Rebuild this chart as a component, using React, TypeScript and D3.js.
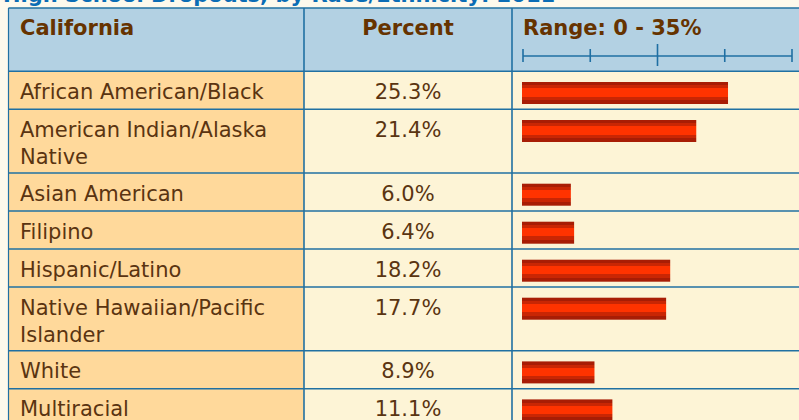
import React from "react";
import * as d3 from "d3";

const title = "High School Dropouts, by Race/Ethnicity: 2011";
const regionLabel = "California";
const valueHeader = "Percent";
const rangeHeader = "Range: 0 - 35%";
const categories = [
  "African American/Black",
  "American Indian/Alaska Native",
  "Asian American",
  "Filipino",
  "Hispanic/Latino",
  "Native Hawaiian/Pacific Islander",
  "White",
  "Multiracial",
];
const values = [25.3, 21.4, 6.0, 6.4, 18.2, 17.7, 8.9, 11.1];
const rangeDomain = [0, 35];
const axisTicks = [0, 8.75, 17.5, 26.25, 35];

const W = 799;
const H = 420;
const FONT = '"DejaVu Sans", Verdana, sans-serif';

function wrapText(text: string, maxW: number): string[] {
  const ctx = document.createElement("canvas").getContext("2d");
  if (!ctx) return [text];
  ctx.font = `21px "DejaVu Sans"`;
  const words = text.split(" ");
  const lines: string[] = [];
  let cur = "";
  for (const w of words) {
    const t = cur ? cur + " " + w : w;
    if (ctx.measureText(t).width > maxW && cur) {
      lines.push(cur);
      cur = w;
    } else cur = t;
  }
  if (cur) lines.push(cur);
  return lines;
}

export default function App() {
  const left = 8.5;
  const c1 = 304;
  const c2 = 512;
  const right = 820;
  const headTop = 8;
  const headBottom = 71.3;

  const lines = categories.map((c) => wrapText(c, 272));
  const heights = lines.map((l) => 38 + (l.length - 1) * 25.7);
  const tops: number[] = [];
  let y = headBottom;
  heights.forEach((h) => {
    tops.push(y);
    y += h;
  });

  const barX = d3.scaleLinear().domain(rangeDomain).range([522, 807]);
  const axisX = d3.scaleLinear().domain(rangeDomain).range([523, 792]);
  const fmt = d3.format(".1f");
  const grid = "#2070a2";

  return (
    <svg
      width={W}
      height={H}
      style={{ position: "absolute", left: 0, top: 0, display: "block" }}
      fontFamily={FONT}
    >
      <defs>
        <linearGradient id="barGrad" x1="0" y1="0" x2="0" y2="1">
          <stop offset="0" stopColor="#a81d05" />
          <stop offset="0.15" stopColor="#a81d05" />
          <stop offset="0.15" stopColor="#c92604" />
          <stop offset="0.29" stopColor="#c92604" />
          <stop offset="0.29" stopColor="#ff3300" />
          <stop offset="0.67" stopColor="#ff3300" />
          <stop offset="0.67" stopColor="#c92604" />
          <stop offset="0.81" stopColor="#c92604" />
          <stop offset="0.81" stopColor="#a81d05" />
          <stop offset="1" stopColor="#a81d05" />
        </linearGradient>
      </defs>
      <rect x={0} y={0} width={W} height={H} fill="#fdf9ec" />
      <text x={3} y={2} fontSize={21} fontWeight="bold" fill="#0b6db5">
        {title}
      </text>

      {/* header */}
      <rect x={left} y={headTop} width={right - left} height={headBottom - headTop} fill="#b3d1e3" />
      <text x={20} y={35} fontSize={21} fontWeight="bold" fill="#663300">
        {regionLabel}
      </text>
      <text x={(c1 + c2) / 2} y={35} fontSize={21} fontWeight="bold" fill="#663300" textAnchor="middle">
        {valueHeader}
      </text>
      <text x={523} y={35} fontSize={21} fontWeight="bold" fill="#663300">
        {rangeHeader}
      </text>
      <line x1={axisX(rangeDomain[0])} x2={axisX(rangeDomain[1])} y1={56} y2={56} stroke="#1f6fa3" strokeWidth={1.6} />
      {axisTicks.map((t, i) => {
        const mid = i === 2;
        return (
          <line
            key={i}
            x1={axisX(t)}
            x2={axisX(t)}
            y1={mid ? 44 : 49}
            y2={mid ? 66 : 62}
            stroke="#1f6fa3"
            strokeWidth={1.6}
          />
        );
      })}

      {/* rows */}
      {categories.map((c, i) => {
        const top = tops[i];
        const h = heights[i];
        return (
          <g key={c}>
            <rect x={left} y={top} width={c1 - left} height={h} fill="#ffd99b" />
            <rect x={c1} y={top} width={right - c1} height={h} fill="#fdf4d6" />
            {lines[i].map((ln, j) => (
              <text key={j} x={20} y={top + 27.5 + j * 27} fontSize={21} fill="#5a3411">
                {ln}
              </text>
            ))}
            <text x={(c1 + c2) / 2} y={top + 27.5} fontSize={21} fill="#5a3411" textAnchor="middle">
              {fmt(values[i])}%
            </text>
            <rect
              x={barX(0)}
              y={top + 10.7}
              width={barX(values[i]) - barX(0)}
              height={22}
              fill="url(#barGrad)"
            />
          </g>
        );
      })}

      {/* grid */}
      {[headTop, headBottom, ...tops.slice(1), y].map((yy, i) => (
        <line key={"h" + i} x1={left} x2={right} y1={yy} y2={yy} stroke={grid} strokeWidth={1.5} />
      ))}
      {[left, c1, c2].map((xx, i) => (
        <line key={"v" + i} x1={xx} x2={xx} y1={headTop} y2={y} stroke={grid} strokeWidth={i === 0 ? 1.2 : 1.6} />
      ))}
    </svg>
  );
}
